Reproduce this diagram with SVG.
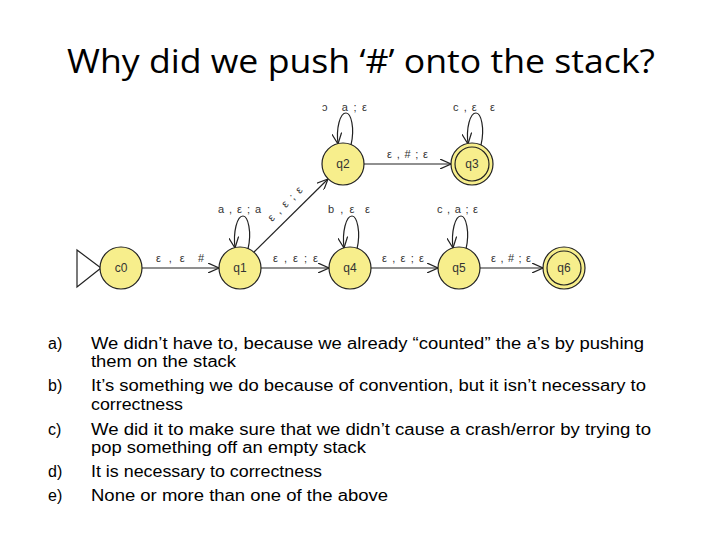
<svg xmlns="http://www.w3.org/2000/svg" width="720" height="540" viewBox="0 0 720 540">
<defs>
<marker id="arr" viewBox="0 0 12 10" refX="11" refY="5" markerWidth="12" markerHeight="10" markerUnits="userSpaceOnUse" orient="auto">
<path d="M0,0 L11,5 L0,10" fill="none" stroke="#222" stroke-width="1.2"/>
</marker>
<style>
.st{fill:#f7ee8c;stroke:#222;stroke-width:1.2}
.nl{font-family:"Liberation Sans",Arial,sans-serif;font-size:12px;fill:#333;text-anchor:middle}
.el{font-family:"Liberation Sans",Arial,sans-serif;font-size:11px;fill:#333;white-space:pre}
.ed{fill:none;stroke:#222;stroke-width:1.2;marker-end:url(#arr)}
.q{font-family:"Liberation Sans",Arial,sans-serif;font-size:16px;fill:#000}
</style>
</defs>
<rect width="720" height="540" fill="#fff"/>
<text x="361" y="73" text-anchor="middle" font-family="'Open Sans','Liberation Sans',sans-serif" font-size="33" textLength="588" lengthAdjust="spacingAndGlyphs">Why did we push ‘#’ onto the stack?</text>

<g id="connectors">
<path class="ed" d="M142,268 L219,268"/>
<path class="ed" d="M261,268 L329,268"/>
<path class="ed" d="M371,268 L438,268"/>
<path class="ed" d="M480,268 L543,268"/>
<path class="ed" d="M364,164 L451,164"/>
<path class="ed" d="M254,252 L328,179"/>
<path class="ed" d="M248,249 C252,232 248,216 243,216 C237,216 233,232 235,248"/>
<path class="ed" d="M351,145 C355,128 351,113 346,113 C340,113 336,128 338,144"/>
<path class="ed" d="M481,145 C485,128 481,113 476,113 C470,113 466,128 468,144"/>
<path class="ed" d="M357,249 C361,232 357,216 352,216 C346,216 342,232 344,248"/>
<path class="ed" d="M466,249 C470,232 466,216 461,216 C455,216 451,232 453,248"/>
<text class="el" x="156" y="262" textLength="48" lengthAdjust="spacing">ε , ε  #</text>
<text class="el" x="273" y="262" textLength="45" lengthAdjust="spacing">ε , ε ; ε</text>
<text class="el" x="382" y="262" textLength="42" lengthAdjust="spacing">ε , ε ; ε</text>
<text class="el" x="491" y="262" textLength="40" lengthAdjust="spacing">ε , # ; ε</text>
<text class="el" x="387" y="158" textLength="41" lengthAdjust="spacing">ε , # ; ε</text>
<text class="el" x="218" y="213" textLength="43" lengthAdjust="spacing">a , ε ; a</text>
<text class="el" x="328" y="213" textLength="42" lengthAdjust="spacing">b , ε  ε</text>
<text class="el" x="437" y="213" textLength="41" lengthAdjust="spacing">c , a ; ε</text>
<text class="el" x="322" y="111" textLength="45" lengthAdjust="spacing">ɔ   a ; ε</text>
<text class="el" x="453" y="111" textLength="42" lengthAdjust="spacing">c , ε   ε</text>
<text class="el" x="0" y="0" transform="translate(272,222) rotate(-45)" textLength="44" lengthAdjust="spacing">ε , ε ; ε</text>
</g>

<g id="start"><path d="M77,250 L101,268 L77,287 Z" fill="#fff" stroke="#222" stroke-width="1.2"/></g>
<g id="c0"><circle class="st" cx="121" cy="268" r="21"/><text class="nl" x="121" y="272">c0</text></g>
<g id="q1"><circle class="st" cx="240" cy="268" r="21"/><text class="nl" x="240" y="272">q1</text></g>
<g id="q4"><circle class="st" cx="350" cy="268" r="21"/><text class="nl" x="350" y="272">q4</text></g>
<g id="q5"><circle class="st" cx="459" cy="268" r="21"/><text class="nl" x="459" y="272">q5</text></g>
<g id="q6"><circle class="st" cx="564" cy="268" r="21"/><circle cx="564" cy="268" r="17" fill="none" stroke="#222" stroke-width="1.2"/><text class="nl" x="564" y="272">q6</text></g>
<g id="q2"><circle class="st" cx="343" cy="164" r="21"/><text class="nl" x="343" y="168">q2</text></g>
<g id="q3"><circle class="st" cx="472" cy="164" r="21"/><circle cx="472" cy="164" r="17" fill="none" stroke="#222" stroke-width="1.2"/><text class="nl" x="472" y="168">q3</text></g>

<g id="answers">
<text class="q" x="48" y="349">a)</text>
<text class="q" x="91" y="349" textLength="553" lengthAdjust="spacingAndGlyphs">We didn’t have to, because we already “counted” the a’s by pushing</text>
<text class="q" x="91" y="367" textLength="145" lengthAdjust="spacingAndGlyphs">them on the stack</text>
<text class="q" x="48" y="391">b)</text>
<text class="q" x="91" y="391" textLength="555" lengthAdjust="spacingAndGlyphs">It’s something we do because of convention, but it isn’t necessary to</text>
<text class="q" x="91" y="410" textLength="92" lengthAdjust="spacingAndGlyphs">correctness</text>
<text class="q" x="48" y="435">c)</text>
<text class="q" x="91" y="435" textLength="560" lengthAdjust="spacingAndGlyphs">We did it to make sure that we didn’t cause a crash/error by trying to</text>
<text class="q" x="91" y="453" textLength="275" lengthAdjust="spacingAndGlyphs">pop something off an empty stack</text>
<text class="q" x="48" y="477">d)</text>
<text class="q" x="91" y="477" textLength="231" lengthAdjust="spacingAndGlyphs">It is necessary to correctness</text>
<text class="q" x="48" y="501">e)</text>
<text class="q" x="91" y="501" textLength="297" lengthAdjust="spacingAndGlyphs">None or more than one of the above</text>
</g>
</svg>
